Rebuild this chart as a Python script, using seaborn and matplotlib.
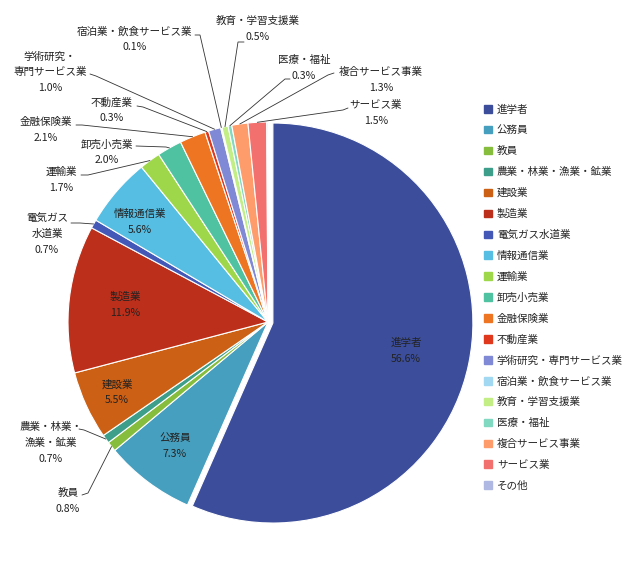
import numpy as np
import matplotlib
matplotlib.use("Agg")
import matplotlib.pyplot as plt
import seaborn as sns

# === DATA ===
categories = ["進学者", "公務員", "教員", "農業・林業・漁業・鉱業", "建設業", "製造業",
              "電気ガス水道業", "情報通信業", "運輸業", "卸売小売業", "金融保険業",
              "不動産業", "学術研究・専門サービス業", "宿泊業・飲食サービス業",
              "教育・学習支援業", "医療・福祉", "複合サービス事業", "サービス業", "その他"]
shares = [56.6, 7.3, 0.8, 0.7, 5.5, 11.9, 0.7, 5.6, 1.7, 2.0, 2.1,
          0.3, 1.0, 0.1, 0.5, 0.3, 1.3, 1.5, 0.1]
colors = ["#3C4E9B", "#479FBF", "#86BD3D", "#3D9E8A", "#CC6014", "#BC2F1A",
          "#4458B8", "#56BEE3", "#9ED84A", "#4FC3A1", "#EE7623", "#E0381C",
          "#7F89D5", "#A3D8F2", "#C3EE86", "#82D9C2", "#FF9C6B", "#F2716E", "#AEB8E2"]

# labels drawn inside the wedge (name lines)
inside_names = {0: "進学者", 1: "公務員", 4: "建設業", 5: "製造業", 7: "情報通信業"}
# labels drawn outside with leader lines (name lines)
outside_names = {
    2: "教員",
    3: "農業・林業・\n漁業・鉱業",
    6: "電気ガス\n水道業",
    8: "運輸業",
    9: "卸売小売業",
    10: "金融保険業",
    11: "不動産業",
    12: "学術研究・\n専門サービス業",
    13: "宿泊業・飲食サービス業",
    14: "教育・学習支援業",
    15: "医療・福祉",
    16: "複合サービス事業",
    17: "サービス業",
}

# === LAYOUT (pixels in a 634x567 image) ===
CX, CY, R = 268, 322, 200
inside_pos = {0: (406, 351), 1: (175, 446), 4: (117, 392), 5: (125, 305), 7: (140, 222)}
# text centre, start of leader line, knee of leader line
outside_pos = {
    2: ((68, 501), (82, 495), (88, 493)),
    3: ((51, 443), (79, 429), (84, 430)),
    6: ((47, 234), (71, 223), (80, 223)),
    8: ((61, 180), (81, 175), (88, 175)),
    9: ((107, 152), (136, 146), (166, 147)),
    10: ((46, 130), (76, 125), (82, 125)),
    11: ((112, 110), (137, 106), (143, 107)),
    12: ((50, 72), (90, 74), (96, 76)),
    13: ((135, 39), (195, 35), (200, 35)),
    14: ((258, 29), (244, 42), (238, 42)),
    15: ((304, 68), (290, 79), (285, 79)),
    16: ((381, 80), (334, 73), (328, 75)),
    17: ((376, 113), (348, 108), (343, 110)),
}

def px2d(p):
    return ((p[0] - CX) / R, (CY - p[1]) / R)

sns.set_theme(style="white")
plt.rcParams["font.family"] = ["Noto Sans CJK JP", "DejaVu Sans"]

fig = plt.figure(figsize=(6.34, 5.67), dpi=100)
ax = fig.add_axes([(CX - R) / 634, (567 - CY - R) / 567, 2 * R / 634, 2 * R / 567])

explode = [0.025] + [0] * (len(shares) - 1)
wedges, _ = ax.pie(shares, colors=colors, startangle=90, counterclock=False,
                   explode=explode, radius=1,
                   wedgeprops=dict(edgecolor="white", linewidth=0.8))
ax.set_xlim(-1, 1)
ax.set_ylim(-1, 1)
ax.set_aspect("equal")
ax.axis("off")

fs = 7.6
for i, name in inside_names.items():
    x, y = px2d(inside_pos[i])
    ax.text(x, y, f"{name}\n{shares[i]:.1f}%", ha="center", va="center",
            fontsize=fs, linespacing=1.7, color="#222222")

for i, name in outside_names.items():
    w = wedges[i]
    mid = np.deg2rad((w.theta1 + w.theta2) / 2)
    cx, cy = w.center
    rim = (cx + w.r * np.cos(mid), cy + w.r * np.sin(mid))
    tpos, start, knee = outside_pos[i]
    tx, ty = px2d(tpos)
    sx, sy = px2d(start)
    kx, ky = px2d(knee)
    ax.plot([sx, kx, rim[0]], [sy, ky, rim[1]], color="#333333", lw=0.6,
            clip_on=False, solid_joinstyle="miter")
    ax.text(tx, ty, f"{name}\n{shares[i]:.1f}%", ha="center", va="center",
            fontsize=fs, linespacing=1.7, color="#222222", clip_on=False)

handles = [plt.Rectangle((0, 0), 1, 1, color=c) for c in colors]
fig.legend(handles, categories, loc="upper left", bbox_to_anchor=(0.757, 0.8235),
           frameon=False, fontsize=7.6, handlelength=0.7, handleheight=0.7,
           handletextpad=0.5, labelspacing=1.02, borderaxespad=0)

fig.savefig("out.png", dpi=100)
